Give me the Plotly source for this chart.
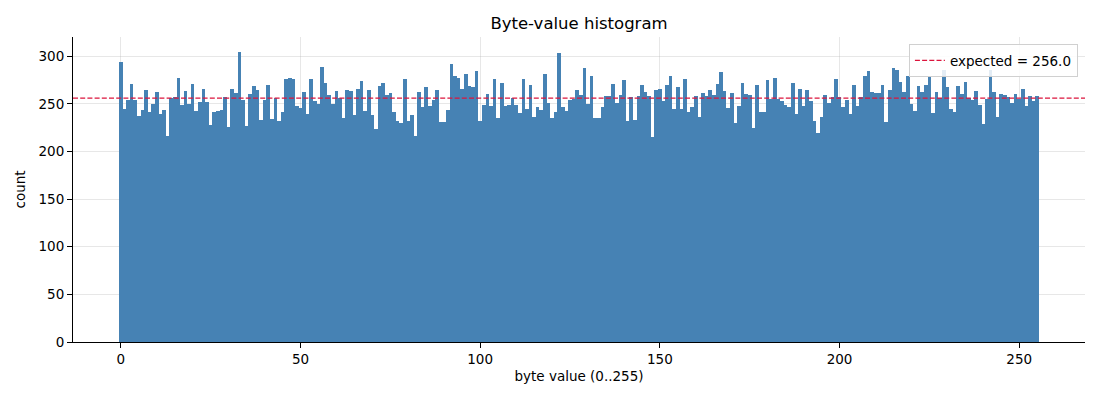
import plotly.graph_objects as go

byte_values = list(range(256))
counts = [
    294, 245, 254, 271, 254, 237, 244, 265, 241, 250, 262, 239, 244, 216, 256, 257,
    277, 249, 264, 250, 271, 243, 252, 266, 252, 228, 241, 243, 244, 257, 226, 266,
    261, 305, 254, 227, 260, 269, 265, 233, 254, 270, 234, 256, 232, 242, 276, 277,
    276, 248, 246, 262, 239, 276, 253, 250, 289, 272, 259, 250, 264, 256, 235, 265,
    264, 238, 266, 274, 243, 265, 238, 224, 269, 272, 259, 261, 241, 232, 230, 276,
    232, 238, 216, 262, 247, 268, 248, 254, 265, 231, 231, 244, 292, 279, 277, 266,
    281, 269, 268, 285, 232, 249, 260, 248, 276, 235, 272, 248, 249, 256, 249, 240,
    276, 245, 270, 236, 247, 244, 281, 251, 235, 242, 303, 247, 243, 254, 255, 265,
    259, 288, 250, 279, 235, 235, 247, 258, 258, 271, 251, 259, 275, 232, 257, 233,
    258, 270, 263, 258, 215, 265, 266, 253, 270, 279, 245, 268, 245, 276, 242, 247,
    258, 236, 261, 258, 265, 259, 271, 283, 264, 246, 261, 230, 248, 272, 260, 259,
    225, 270, 242, 242, 275, 255, 277, 255, 253, 249, 247, 272, 239, 266, 248, 265,
    253, 232, 219, 236, 259, 251, 257, 276, 257, 247, 254, 239, 270, 248, 257, 279,
    285, 263, 261, 261, 270, 231, 265, 288, 286, 273, 262, 279, 250, 243, 269, 263,
    270, 279, 240, 263, 256, 286, 268, 245, 241, 269, 260, 273, 256, 254, 264, 249,
    229, 255, 286, 263, 236, 260, 259, 257, 251, 260, 255, 266, 248, 258, 253, 258,
]
EXPECTED = 65536 / 256
x_ticks = [0, 50, 100, 150, 200, 250]
y_ticks = [0, 50, 100, 150, 200, 250, 300]

FONT = "DejaVu Sans"
n = len(byte_values)
span = n  # bins from -0.5 to 255.5
x_lo = -0.5 - 0.05 * span
x_hi = (n - 0.5) + 0.05 * span
y_hi = max(counts) * 1.05

# page body has an 8px margin; size the figure so it fills the rest of the window
W, H = 1092, 392

fig = go.Figure()
fig.add_trace(go.Bar(
    x=byte_values, y=counts, width=1.0,
    marker=dict(color="#4682b4", line=dict(width=0)),
    showlegend=False, hoverinfo="x+y",
))
fig.add_trace(go.Scatter(
    x=[x_lo, x_hi], y=[EXPECTED, EXPECTED], mode="lines",
    line=dict(color="#dc143c", width=1.3, dash="5px,2.2px"),
    name=f"expected = {EXPECTED:.1f}", showlegend=True,
))

grid = "rgba(176,176,176,0.3)"
fig.update_layout(
    width=W, height=H,
    margin=dict(l=63, r=15, t=29, b=58),
    paper_bgcolor="white", plot_bgcolor="white",
    bargap=0,
    font=dict(family=FONT, size=13.5, color="black"),
    title=dict(text="Byte-value histogram", x=0.5, xref="paper", xanchor="center",
               y=1 - 15 / H, yref="container", yanchor="middle",
               font=dict(family=FONT, size=16.5, color="black")),
    legend=dict(x=0.993, y=0.977, xanchor="right", yanchor="top",
                bgcolor="rgba(255,255,255,0.85)", bordercolor="#d0d0d0", borderwidth=1,
                font=dict(family=FONT, size=13.5, color="black"),
                itemwidth=30, tracegroupgap=0),
    xaxis=dict(range=[x_lo, x_hi], tickvals=x_ticks, showgrid=True, gridcolor=grid,
               gridwidth=1, zeroline=False, showline=True, linecolor="black", linewidth=1,
               ticks="outside", ticklen=5, tickcolor="black", tickwidth=1,
               layer="above traces",
               title=dict(text="byte value (0..255)", standoff=5,
                          font=dict(family=FONT, size=13.5))),
    yaxis=dict(range=[0, y_hi], tickvals=y_ticks, showgrid=True, gridcolor=grid,
               gridwidth=1, zeroline=False, showline=True, linecolor="black", linewidth=1,
               ticks="outside", ticklen=5, tickcolor="black", tickwidth=1,
               layer="above traces",
               title=dict(text="count", standoff=9,
                          font=dict(family=FONT, size=13.5))),
)

fig.write_html("out.html")
